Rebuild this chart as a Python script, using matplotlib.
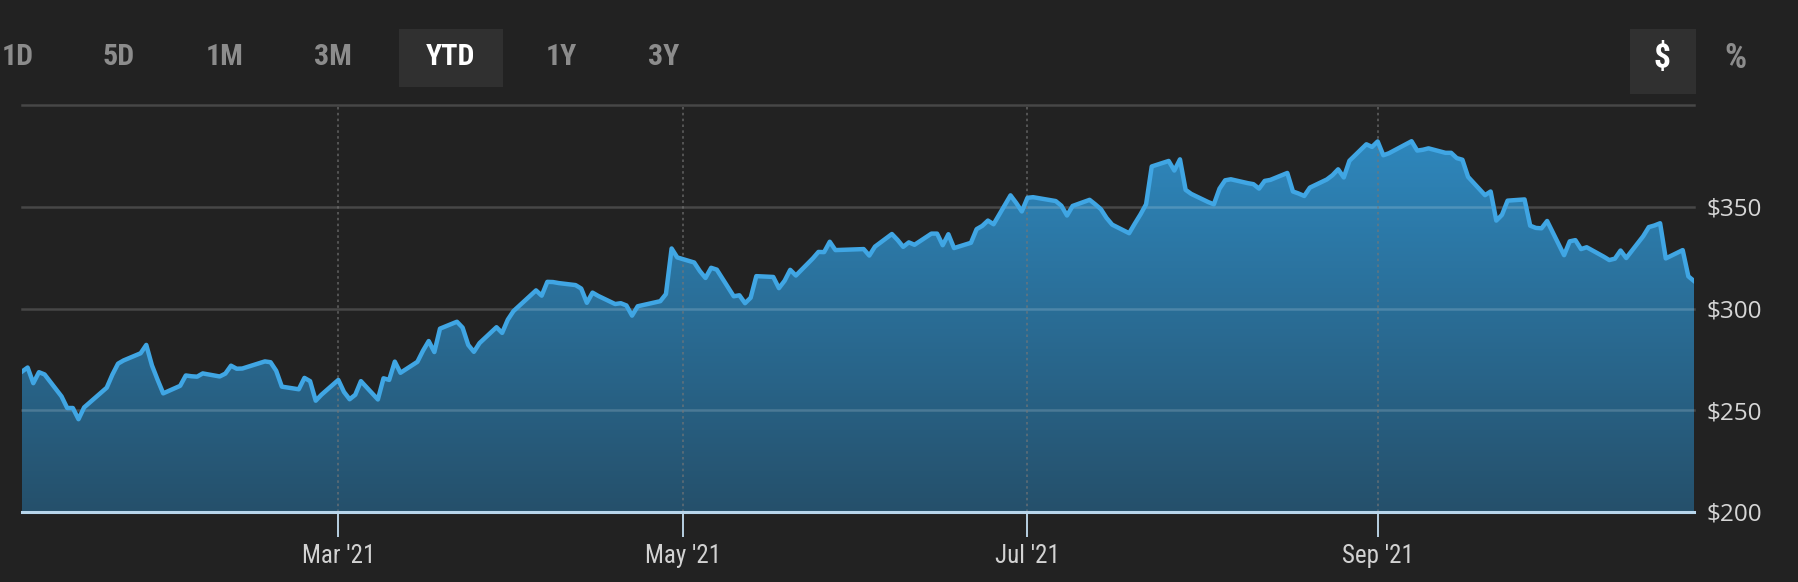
import numpy as np
import pandas as pd
import matplotlib
matplotlib.use('Agg')
import matplotlib.pyplot as plt
import matplotlib.dates as mdates
from matplotlib.patches import Rectangle, Polygon
from matplotlib.colors import LinearSegmentedColormap

# trading days (day of month) and closing prices, 2021
jan_days = [4, 5, 6, 7, 8, 11, 12, 13, 14, 15, 19, 20, 21, 22, 25, 26, 27, 28, 29]
jan_close = [269.0, 271.0, 263.3, 268.7, 267.6, 256.8, 251.1, 251.1, 245.6, 251.4,
             261.1, 267.5, 272.9, 274.5, 278.0, 282.1, 272.1, 265.0, 258.3]
feb_days = [1, 2, 3, 4, 5, 8, 9, 10, 11, 12, 16, 17, 18, 19, 22, 23, 24, 25, 26]
feb_close = [262.0, 267.1, 266.7, 266.5, 268.1, 266.6, 268.0, 271.9, 270.4, 270.5,
             274.0, 273.6, 269.4, 261.6, 260.3, 265.9, 264.3, 254.7, 257.6]
mar_days = [1, 2, 3, 4, 5, 8, 9, 10, 11, 12, 15, 16, 17, 18, 19, 22, 23, 24, 25, 26, 29, 30, 31]
mar_close = [264.9, 259.0, 255.4, 257.6, 264.3, 255.3, 265.7, 264.9, 273.9, 268.4,
             273.8, 279.3, 284.0, 278.6, 290.1, 293.5, 290.6, 282.1, 278.7, 283.0,
             290.8, 288.0, 294.5]
apr_days = [1, 5, 6, 7, 8, 9, 12, 13, 14, 15, 16, 19, 20, 21, 22, 23, 26, 27, 28, 29, 30]
apr_close = [298.7, 308.9, 306.3, 313.1, 313.0, 312.5, 311.5, 309.8, 302.8, 307.8,
             306.2, 302.2, 302.6, 301.5, 296.5, 301.1, 303.0, 303.6, 307.1, 329.5, 325.1]
may_days = [3, 4, 5, 6, 7, 10, 11, 12, 13, 14, 17, 18, 19, 20, 21, 24, 25, 26, 27, 28]
may_close = [322.6, 318.4, 315.0, 320.0, 319.1, 306.0, 306.5, 302.6, 305.3, 315.9,
             315.5, 310.0, 313.6, 319.0, 316.2, 324.6, 327.8, 327.7, 332.8, 328.7]
jun_days = [1, 2, 3, 4, 7, 8, 9, 10, 11, 14, 15, 16, 17, 18, 21, 22, 23, 24, 25, 28, 29, 30]
jun_close = [329.1, 329.2, 326.0, 330.4, 336.6, 333.7, 330.3, 332.5, 331.3, 336.8,
             336.8, 331.1, 336.5, 329.7, 332.3, 339.0, 340.6, 343.2, 341.4, 355.6,
             351.9, 347.7]
jul_days = [1, 2, 6, 7, 8, 9, 12, 13, 14, 15, 16, 19, 20, 21, 22, 23, 26, 27, 28, 29, 30]
jul_close = [354.4, 354.7, 352.8, 350.5, 345.7, 350.4, 353.4, 351.2, 348.8, 344.5,
             341.2, 337.0, 341.7, 346.2, 351.2, 369.8, 372.5, 367.8, 373.3, 358.3, 356.3]
aug_days = [2, 3, 4, 5, 6, 9, 10, 11, 12, 13, 16, 17, 18, 19, 20, 23, 24, 25, 26, 27, 30, 31]
aug_close = [352.3, 351.2, 358.9, 363.0, 363.5, 361.6, 361.1, 358.9, 362.7, 363.2,
             366.6, 357.5, 356.5, 355.3, 359.4, 363.4, 365.5, 368.4, 364.4, 372.6,
             380.7, 379.4]
sep_days = [1, 2, 3, 7, 8, 9, 10, 13, 14, 15, 16, 17, 20, 21, 22, 23, 24, 27, 28, 29, 30]
sep_close = [382.1, 375.3, 376.3, 382.2, 377.6, 378.0, 378.7, 376.5, 376.5, 373.9,
             373.1, 364.7, 355.7, 357.5, 343.2, 346.0, 353.0, 353.6, 340.7, 339.6, 339.4]
oct_days = [1, 4, 5, 6, 7, 8, 11, 12, 13, 14, 15, 18, 19, 20, 21, 22, 25, 26, 27]
oct_close = [343.0, 326.2, 333.0, 333.6, 329.2, 330.1, 325.5, 323.8, 324.5, 328.5,
             324.8, 335.5, 340.0, 340.8, 341.9, 324.6, 328.7, 315.8, 313.5]

tick_dates = ['2021-03-01', '2021-05-01', '2021-07-01', '2021-09-01']
tick_labels = ["Mar '21", "May '21", "Jul '21", "Sep '21"]
y_ticks = [200, 250, 300, 350]
y_labels = ['$200', '$250', '$300', '$350']
grid_levels = [250, 300, 350, 400]
range_buttons = ['1D', '5D', '1M', '3M', 'YTD', '1Y', '3Y']
range_x = [18, 119, 225, 333, 451, 561, 664]

months = [(1, jan_days, jan_close), (2, feb_days, feb_close), (3, mar_days, mar_close),
          (4, apr_days, apr_close), (5, may_days, may_close), (6, jun_days, jun_close),
          (7, jul_days, jul_close), (8, aug_days, aug_close), (9, sep_days, sep_close),
          (10, oct_days, oct_close)]
dates = [pd.Timestamp(2021, m, d) for m, ds, _ in months for d in ds]
close = np.array([c for _, _, cs in months for c in cs])
x = mdates.date2num(dates)

W, H = 1799, 582
BG = '#222222'
narrow = ['Roboto Condensed', 'DejaVu Sans']

fig = plt.figure(figsize=(W / 100, H / 100), dpi=100, facecolor=BG)
ax = fig.add_axes([22 / W, 1 - 512 / H, (1694 - 22) / W, (512 - 105) / H])
ax.set_facecolor(BG)
ax.set_xlim(x[0], x[-1])
ax.set_ylim(200, 400)

# gradient area fill clipped to the price polygon
cmap = LinearSegmentedColormap.from_list('fill', ['#25506b', '#2f8cc4'])
grad = np.linspace(0, 1, 256).reshape(-1, 1)
im = ax.imshow(grad, extent=[x[0], x[-1], 200, 400], origin='lower',
               aspect='auto', cmap=cmap, zorder=1)
verts = np.column_stack([np.r_[x[0], x, x[-1]], np.r_[200, close, 200]])
poly = Polygon(verts, closed=True, facecolor='none', edgecolor='none')
ax.add_patch(poly)
im.set_clip_path(poly)

for v in grid_levels:
    ax.axhline(v, color='white', alpha=0.17, lw=1.8, zorder=2, clip_on=False)
for t in tick_dates:
    ax.axvline(mdates.datestr2num(t), color='#777777', alpha=0.7, lw=1.2,
               ls=(0, (1.5, 2)), zorder=2)

ax.plot(x, close, color='#40a6e4', lw=3.2, zorder=4, solid_joinstyle='round')
ax.axhline(200, color='#b8d6ec', lw=2.2, zorder=5, clip_on=False)

for s in ax.spines.values():
    s.set_visible(False)

ax.set_xticks([mdates.datestr2num(t) for t in tick_dates])
ax.set_xticklabels(tick_labels, family=narrow, stretch='condensed',
                   fontsize=18, color='#d2d2d2')
ax.tick_params(axis='x', length=18, width=1.4, color='#b8d0e2', pad=5)

ax.yaxis.tick_right()
ax.set_yticks(y_ticks)
ax.set_yticklabels(y_labels, family='Open Sans', fontsize=17.5, color='#d6d6d6')
ax.tick_params(axis='y', length=0, pad=9)

# range selector buttons
fig.patches.append(Rectangle((399 / W, 1 - 87 / H), 104 / W, 58 / H,
                             transform=fig.transFigure, facecolor='#303030',
                             edgecolor='none'))
fig.patches.append(Rectangle((1630 / W, 1 - 94 / H), 66 / W, 65 / H,
                             transform=fig.transFigure, facecolor='#303030',
                             edgecolor='none'))
for lab, bx in zip(range_buttons, range_x):
    fig.text(bx / W, 1 - 57 / H, lab, ha='center', va='center', family=narrow,
             stretch='condensed', fontweight='bold', fontsize=21.5,
             color='white' if lab == 'YTD' else '#8c8c8c')
fig.text(1662 / W, 1 - 58 / H, '$', ha='center', va='center', family=narrow,
         stretch='condensed', fontweight='bold', fontsize=24, color='white')
fig.text(1735 / W, 1 - 58 / H, '%', ha='center', va='center', family=narrow,
         stretch='condensed', fontweight='bold', fontsize=25, color='#8c8c8c')

fig.savefig('out.png', dpi=100, facecolor=BG)
